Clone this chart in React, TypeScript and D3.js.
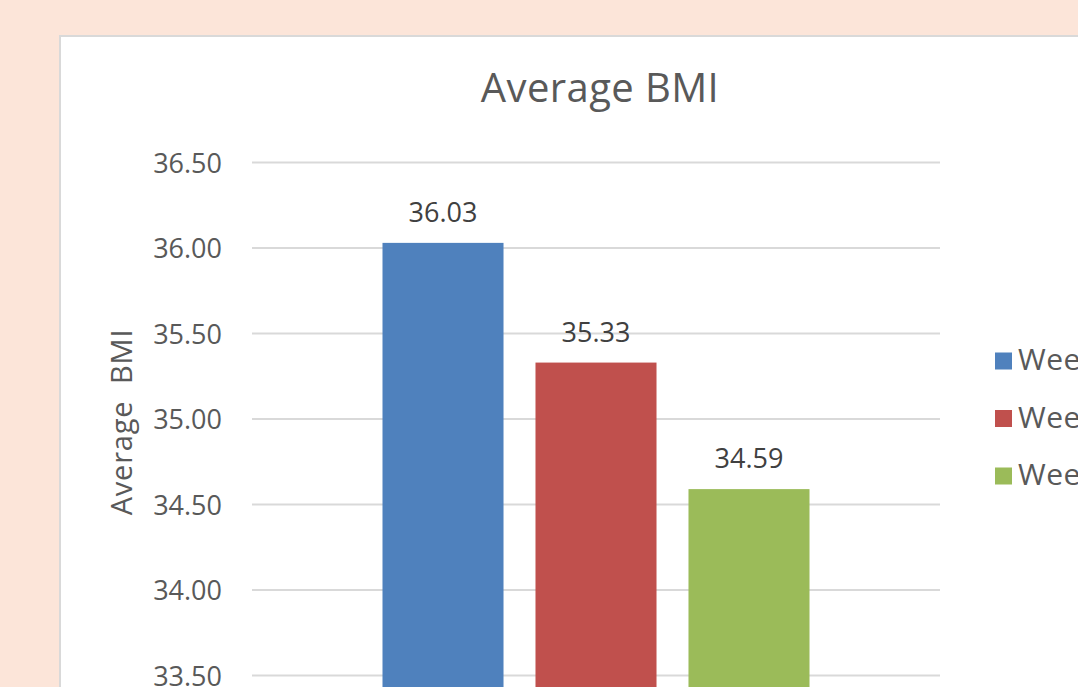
import React, { useEffect, useRef } from 'react';
import * as d3 from 'd3';

const categories = ['Average BMI'];
const seriesNames = ['Week 1', 'Week 2', 'Week 3'];
const seriesValues = [36.03, 35.33, 34.59];
const seriesColors = ['#4F81BD', '#C0504D', '#9BBB59'];
const yTicks = [33.5, 34.0, 34.5, 35.0, 35.5, 36.0, 36.5];

const WIDTH = 1078;
const HEIGHT = 687;

const BarChart: React.FC = () => {
  const svgRef = useRef<SVGSVGElement>(null);

  useEffect(() => {
    if (!svgRef.current) return;
    d3.select(svgRef.current).selectAll('*').remove();

    const svg = d3.select(svgRef.current)
      .attr('width', WIDTH)
      .attr('height', HEIGHT);

    const font = "'Open Sans', 'Noto Sans', sans-serif";

    // Page background and chart area
    svg.append('rect')
      .attr('width', WIDTH)
      .attr('height', HEIGHT)
      .attr('fill', '#FCE5D9');

    svg.append('rect')
      .attr('x', 60)
      .attr('y', 36)
      .attr('width', WIDTH)
      .attr('height', HEIGHT)
      .attr('fill', '#ffffff')
      .attr('stroke', '#D9D9D9')
      .attr('stroke-width', 2);

    const plot = { left: 252, right: 940, top: 162.5 };

    // one step of 0.5 is ~85.5px
    const yScale = d3.scaleLinear()
      .domain([33.0, 36.5])
      .range([plot.top + 7 * 85.5, plot.top]);

    const xOuter = d3.scaleBand<string>()
      .domain(categories)
      .range([plot.left, plot.right])
      .paddingInner(0)
      .paddingOuter(0.3056);

    const xInner = d3.scaleBand<string>()
      .domain(seriesNames)
      .range([0, xOuter.bandwidth()])
      .paddingInner(0.209)
      .paddingOuter(0);

    // Grid lines
    svg.append('g')
      .selectAll('line')
      .data(yTicks)
      .enter()
      .append('line')
      .attr('x1', plot.left)
      .attr('x2', plot.right)
      .attr('y1', d => yScale(d))
      .attr('y2', d => yScale(d))
      .attr('stroke', '#D9D9D9')
      .attr('stroke-width', 2);

    // Y axis labels
    const yAxis = svg.append('g')
      .attr('transform', `translate(${plot.left},0)`)
      .call(d3.axisLeft(yScale)
        .tickValues(yTicks)
        .tickSize(0)
        .tickPadding(30)
        .tickFormat(d => d3.format('.2f')(d as number))
      );

    yAxis.select('.domain').remove();
    yAxis.selectAll('text')
      .attr('font-family', font)
      .attr('font-size', '27px')
      .attr('fill', '#595959')
      .attr('dy', '0.36em');

    // Bars
    const data = seriesNames.map((name, i) => ({
      name,
      value: seriesValues[i],
      color: seriesColors[i]
    }));

    const group = svg.append('g')
      .attr('transform', `translate(${xOuter(categories[0])},0)`);

    group.selectAll('.bar')
      .data(data)
      .enter()
      .append('rect')
      .attr('class', 'bar')
      .attr('x', d => xInner(d.name)!)
      .attr('width', xInner.bandwidth())
      .attr('y', d => yScale(d.value))
      .attr('height', d => yScale(33.0) - yScale(d.value))
      .attr('fill', d => d.color);

    // Data labels
    group.selectAll('.label')
      .data(data)
      .enter()
      .append('text')
      .attr('class', 'label')
      .attr('x', d => xInner(d.name)! + xInner.bandwidth() / 2)
      .attr('y', d => yScale(d.value) - 21)
      .attr('text-anchor', 'middle')
      .attr('font-family', font)
      .attr('font-size', '27px')
      .attr('fill', '#404040')
      .text(d => d3.format('.2f')(d.value));

    // Title
    svg.append('text')
      .attr('x', 600)
      .attr('y', 102)
      .attr('text-anchor', 'middle')
      .attr('font-family', font)
      .attr('font-size', '40px')
      .attr('letter-spacing', '0.4px')
      .attr('fill', '#595959')
      .text(categories[0]);

    // Y axis title
    svg.append('text')
      .attr('transform', `translate(132,${(yScale(34.5) + yScale(35.5)) / 2 + 3}) rotate(-90)`)
      .attr('text-anchor', 'middle')
      .attr('font-family', font)
      .attr('font-size', '29px')
      .attr('letter-spacing', '0.8px')
      .attr('fill', '#595959')
      .style('white-space', 'pre')
      .text('Average  BMI');

    // Legend
    const legend = svg.append('g')
      .selectAll('.legend')
      .data(data)
      .enter()
      .append('g')
      .attr('class', 'legend')
      .attr('transform', (_d, i) => `translate(995,${352.5 + i * 57.5})`);

    legend.append('rect')
      .attr('width', 17)
      .attr('height', 17)
      .attr('fill', d => d.color);

    legend.append('text')
      .attr('x', 23)
      .attr('y', 17.5)
      .attr('font-family', font)
      .attr('font-size', '30px')
      .attr('letter-spacing', '0.5px')
      .attr('fill', '#595959')
      .text(d => d.name);
  }, []);

  return <svg ref={svgRef} style={{ display: 'block' }}></svg>;
};

export default function App() {
  return (
    <div style={{ position: 'absolute', left: 0, top: 0, width: WIDTH, height: HEIGHT, overflow: 'hidden' }}>
      <BarChart />
    </div>
  );
}
